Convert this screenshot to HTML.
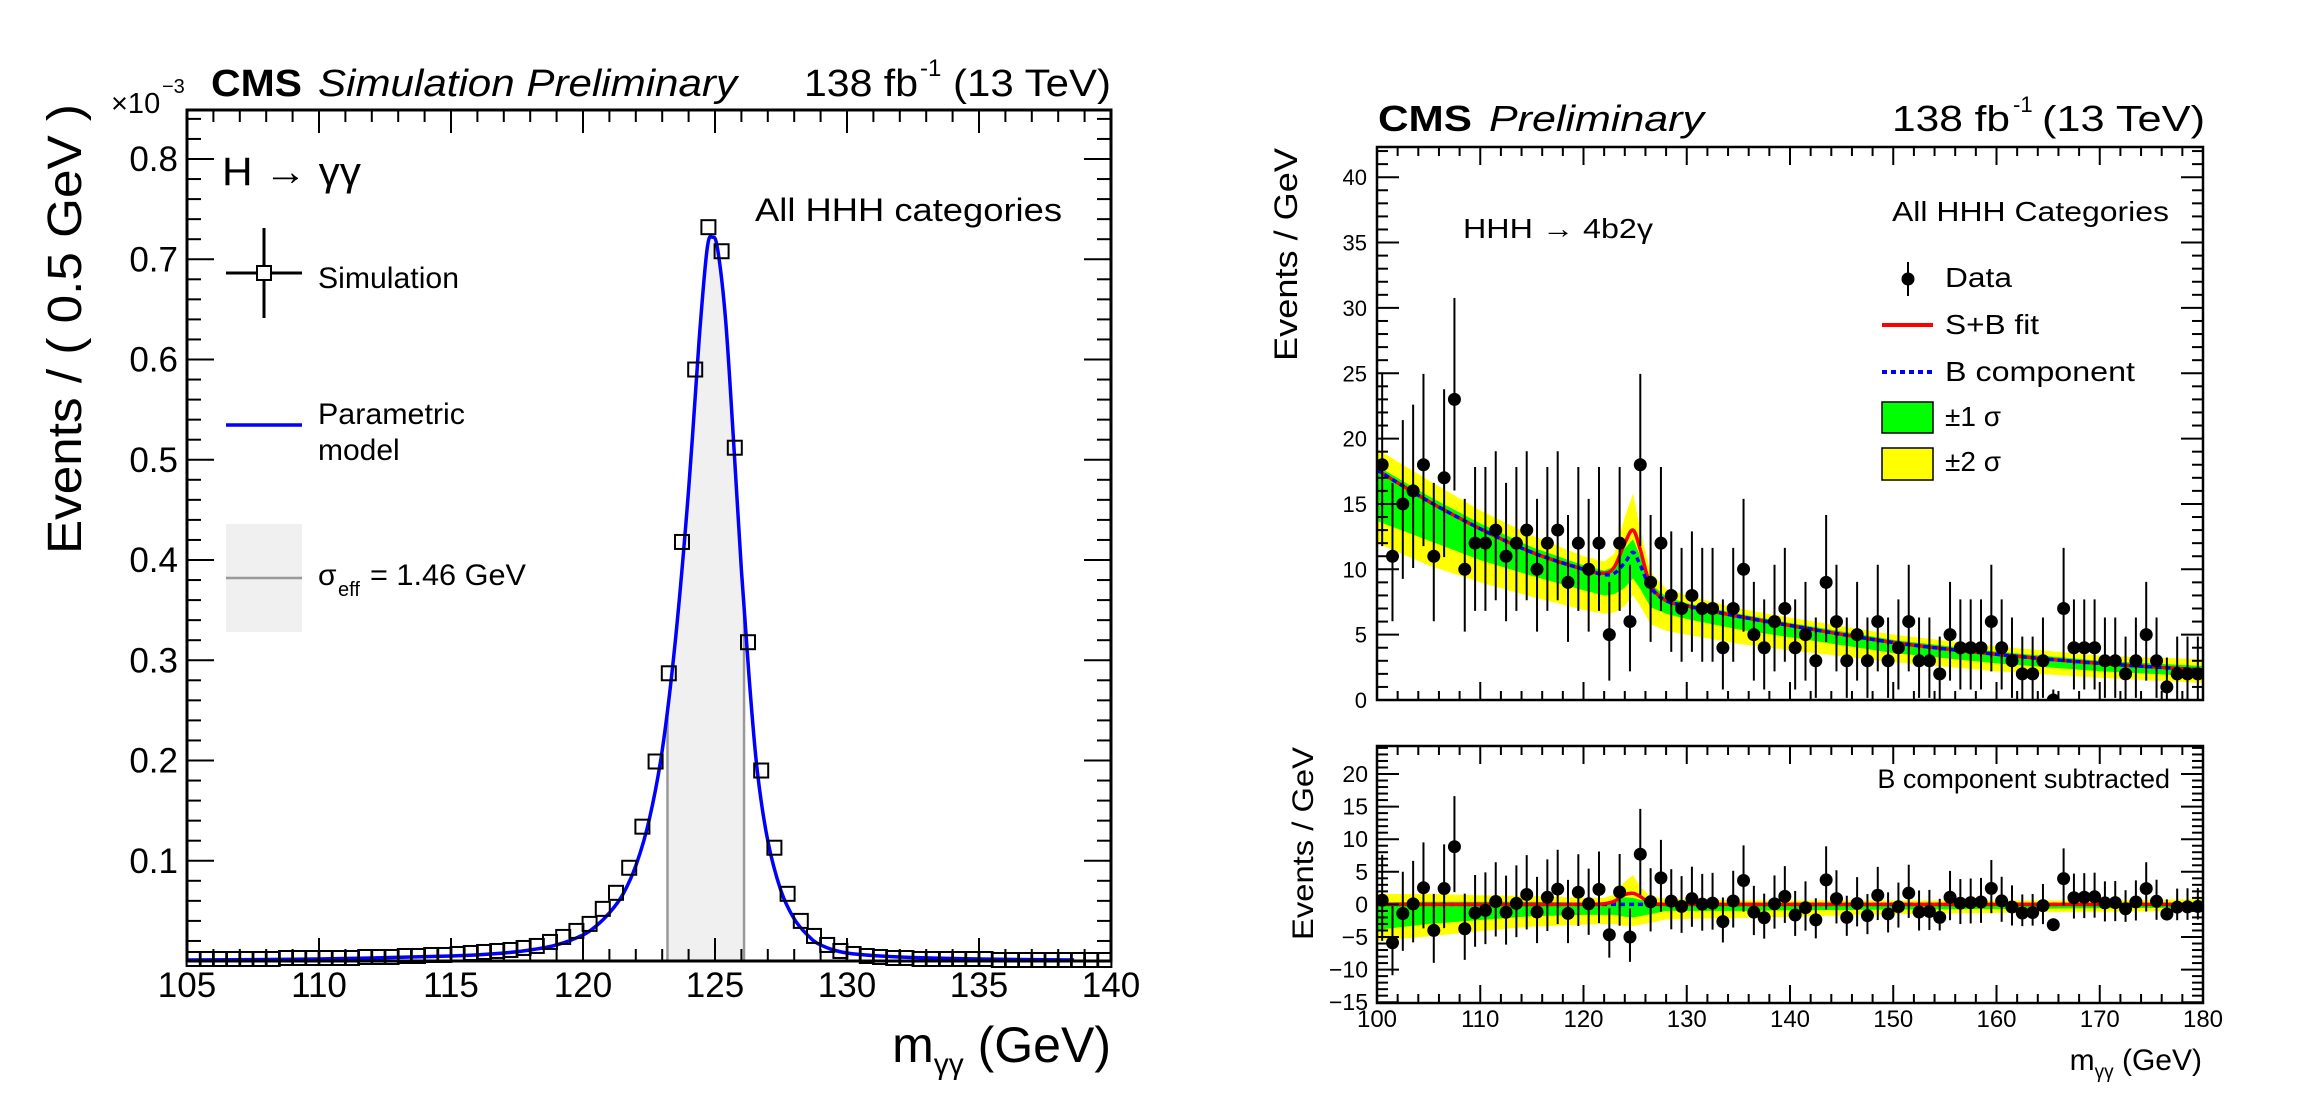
<!DOCTYPE html>
<html><head><meta charset="utf-8"><style>
html,body{margin:0;padding:0;background:#fff;}
svg{display:block;font-family:"Liberation Sans",Arial,sans-serif;}
</style></head><body>
<svg id="fig" width="2309" height="1093" viewBox="0 0 2309 1093" xmlns="http://www.w3.org/2000/svg">
<rect x="0" y="0" width="2309" height="1093" fill="#fff"/>
<g id="left">
  <g id="lMarks"></g>
  <g id="lTicks"></g>
  <rect x="187" y="110" width="924" height="851" fill="none" stroke="#000" stroke-width="3"/>
  <text x="211" y="96" font-size="38" font-weight="bold" textLength="91" lengthAdjust="spacingAndGlyphs">CMS</text>
  <text x="318" y="96" font-size="38" font-style="italic" textLength="419" lengthAdjust="spacingAndGlyphs">Simulation Preliminary</text>
  <text x="804" y="96" font-size="38" textLength="114" lengthAdjust="spacingAndGlyphs">138 fb</text>
  <text x="920" y="76" font-size="24">-1</text>
  <text x="1111" y="96" font-size="38" text-anchor="end" textLength="158" lengthAdjust="spacingAndGlyphs">(13 TeV)</text>
  <text x="111" y="113" font-size="29">×10</text>
  <text x="162" y="93" font-size="20">−3</text>
  <text transform="translate(81,104) rotate(-90)" font-size="48" text-anchor="end" textLength="450" lengthAdjust="spacingAndGlyphs">Events / ( 0.5 GeV )</text>
  <text x="1111" y="1062" font-size="50" text-anchor="end">m<tspan font-size="30" dy="12">γγ</tspan><tspan dy="-12"> (GeV)</tspan></text>
  <text x="222" y="185" font-size="40" textLength="139" lengthAdjust="spacingAndGlyphs">H → γγ</text>
  <text x="755" y="221" font-size="32" textLength="307" lengthAdjust="spacingAndGlyphs">All HHH categories</text>
  <g>
    <line x1="264" y1="228" x2="264" y2="318" stroke="#000" stroke-width="3"/>
    <line x1="226" y1="273" x2="302" y2="273" stroke="#000" stroke-width="3"/>
    <rect x="257" y="266" width="14" height="14" fill="#fff" stroke="#000" stroke-width="2"/>
    <text x="318" y="288" font-size="30" textLength="141" lengthAdjust="spacingAndGlyphs">Simulation</text>
  </g>
  <g>
    <line x1="226" y1="425" x2="302" y2="425" stroke="#0000ff" stroke-width="3.5"/>
    <text x="318" y="424" font-size="30" textLength="147" lengthAdjust="spacingAndGlyphs">Parametric</text>
    <text x="318" y="460" font-size="30">model</text>
  </g>
  <g>
    <rect x="226" y="524" width="76" height="108" fill="#f0f0f0"/>
    <line x1="226" y1="578" x2="302" y2="578" stroke="#999" stroke-width="2.5"/>
    <text x="318" y="585" font-size="30">σ</text>
    <text x="338" y="596" font-size="20">eff</text>
    <text x="370" y="585" font-size="30" textLength="156" lengthAdjust="spacingAndGlyphs">= 1.46 GeV</text>
  </g>
</g>
<g id="right">
  <g id="rMarks"></g>
  <g id="bMarks"></g>
  <g id="rTicks"></g>
  <rect x="1377" y="147" width="826" height="553" fill="none" stroke="#000" stroke-width="2.5"/>
  <rect x="1377" y="746" width="826" height="257" fill="none" stroke="#000" stroke-width="2.5"/>
  <text x="1378" y="131" font-size="36" font-weight="bold" textLength="94" lengthAdjust="spacingAndGlyphs">CMS</text>
  <text x="1489" y="131" font-size="36" font-style="italic" textLength="215" lengthAdjust="spacingAndGlyphs">Preliminary</text>
  <text x="1892" y="131" font-size="36" textLength="118" lengthAdjust="spacingAndGlyphs">138 fb</text>
  <text x="2013" y="112" font-size="22">-1</text>
  <text x="2205" y="131" font-size="36" text-anchor="end" textLength="163" lengthAdjust="spacingAndGlyphs">(13 TeV)</text>
  <text transform="translate(1297,148) rotate(-90)" font-size="32" text-anchor="end" textLength="213" lengthAdjust="spacingAndGlyphs">Events / GeV</text>
  <text transform="translate(1313,747) rotate(-90)" font-size="30" text-anchor="end" textLength="193" lengthAdjust="spacingAndGlyphs">Events / GeV</text>
  <text x="2202" y="1070" font-size="30" text-anchor="end">m<tspan font-size="19" dy="8">γγ</tspan><tspan dy="-8"> (GeV)</tspan></text>
  <text x="1463" y="238" font-size="28" textLength="190" lengthAdjust="spacingAndGlyphs">HHH → 4b2γ</text>
  <text x="1892" y="221" font-size="28" textLength="277" lengthAdjust="spacingAndGlyphs">All HHH Categories</text>
  <text x="2170" y="788" font-size="27" text-anchor="end">B component subtracted</text>
  <g>
    <line x1="1908" y1="262" x2="1908" y2="296" stroke="#000" stroke-width="2"/>
    <circle cx="1908" cy="279" r="6.5" fill="#000"/>
    <text x="1945" y="287" font-size="28" textLength="67" lengthAdjust="spacingAndGlyphs">Data</text>
  </g>
  <g>
    <line x1="1882" y1="325" x2="1933" y2="325" stroke="#ff0000" stroke-width="4"/>
    <text x="1945" y="334" font-size="28" textLength="94" lengthAdjust="spacingAndGlyphs">S+B fit</text>
  </g>
  <g>
    <line x1="1882" y1="372" x2="1933" y2="372" stroke="#0000ff" stroke-width="4" stroke-dasharray="5,4"/>
    <text x="1945" y="381" font-size="28" textLength="190" lengthAdjust="spacingAndGlyphs">B component</text>
  </g>
  <g>
    <rect x="1882" y="402" width="51" height="31" fill="#00ff00" stroke="#000" stroke-width="1.5"/>
    <text x="1945" y="426" font-size="28">±1 σ</text>
  </g>
  <g>
    <rect x="1882" y="448" width="51" height="32" fill="#ffff00" stroke="#000" stroke-width="1.5"/>
    <text x="1945" y="471" font-size="28">±2 σ</text>
  </g>
</g>
</svg>
<script>
// ---------- LEFT CHART DATA ----------
const simValues = [0.002,0.002,0.002,0.002,0.002,0.002,0.002,0.003,0.003,0.003,
  0.003,0.003,0.003,0.004,0.004,0.004,0.005,0.005,0.006,0.006,
  0.007,0.008,0.009,0.010,0.011,0.013,0.015,0.019,0.024,0.030,
  0.037,0.052,0.068,0.093,0.134,0.199,0.287,0.418,0.590,0.732,
  0.708,0.512,0.318,0.190,0.113,0.067,0.040,0.025,0.016,0.010,
  0.007,0.005,0.004,0.003,0.003,0.002,0.002,0.002,0.002,0.002,
  0.002,0.001,0.001,0.001,0.001,0.001,0.001,0.001,0.001,0.001];
const simFirstCenter = 105.25;
const simBinWidth = 0.5;
const modelX = [105,110,115,117,118,119,120,120.5,121,121.5,122,122.5,123,123.5,124,124.4,124.7,124.9,125.1,125.4,125.7,126,126.3,126.6,127,127.5,128,128.5,129,130,132,135,138.6];
const modelY = [0.001,0.002,0.005,0.008,0.011,0.016,0.026,0.035,0.048,0.066,0.095,0.140,0.21,0.32,0.47,0.62,0.71,0.722,0.71,0.64,0.52,0.39,0.28,0.19,0.12,0.07,0.042,0.026,0.016,0.008,0.004,0.002,0.001];
const sigmaEffRange = [123.2, 126.1];
const leftXTickLabels = ["105","110","115","120","125","130","135","140"];
const leftYTickLabels = ["0.1","0.2","0.3","0.4","0.5","0.6","0.7","0.8"];

// ---------- RIGHT CHART DATA ----------
const dataFirstCenter = 100.5;
const dataCounts = [18,11,15,16,18,11,17,23,10,12, 12,13,11,12,13,10,12,13,9,12,
  10,12,5,12,6,18,9,12,8,7, 8,7,7,4,7,10,5,4,6,7,
  4,5,3,9,6,3,5,3,6,3, 4,6,3,3,2,5,4,4,4,6,
  4,3,2,2,3,0,7,4,4,4, 3,3,2,3,5,3,1,2,2,2];
const fitX  = [100,105,110,115,120,122,123,124,124.8,125.5,126.5,128,130,135,140,150,160,170,180];
const bLine = [17.6,15.2,13.1,11.3,10.0,9.6,9.7,10.5,11.3,10.3,8.6,7.6,7.2,6.4,5.7,4.4,3.5,2.8,2.3];
const sbLine= [17.6,15.2,13.1,11.3,10.0,9.7,10.2,12.0,13.0,11.5,8.8,7.6,7.2,6.4,5.7,4.4,3.5,2.8,2.3];
const g1Lo  = [13.7,12.2,10.7,9.5,8.4,8.0,8.1,8.6,9.3,8.5,7.1,6.6,6.2,5.4,4.8,3.6,2.8,2.2,1.8];
const g1Hi  = [17.9,15.6,13.5,11.7,10.3,9.9,10.2,11.6,12.3,11.0,8.9,7.9,7.4,6.6,5.9,4.6,3.7,3.0,2.6];
const y2Lo  = [12.0,10.3,9.0,7.9,6.9,6.6,6.7,7.2,8.0,7.2,5.8,5.3,5.0,4.3,3.8,2.9,2.2,1.7,1.3];
const y2Hi  = [19.2,16.8,14.5,12.6,11.0,10.6,11.2,14.0,15.8,13.0,9.8,8.5,8.0,7.0,6.3,5.0,4.1,3.4,3.1];
const rightXTickLabels = ["100","110","120","130","140","150","160","170","180"];
const rightTopYTickLabels = ["0","5","10","15","20","25","30","35","40"];
const rightBotYTickLabels = ["−15","−10","−5","0","5","10","15","20"];

const NS = "http://www.w3.org/2000/svg";
function el(tag, attrs, parent){ const e=document.createElementNS(NS,tag); for(const k in attrs) e.setAttribute(k,attrs[k]); parent.appendChild(e); return e; }
function smooth(p){ let d=`M${p[0][0]},${p[0][1]}`; for(let i=0;i<p.length-1;i++){ const p0=p[i-1]||p[i],p1=p[i],p2=p[i+1],p3=p[i+2]||p2;
  d+=` C${p1[0]+(p2[0]-p0[0])/6},${p1[1]+(p2[1]-p0[1])/6} ${p2[0]-(p3[0]-p1[0])/6},${p2[1]-(p3[1]-p1[1])/6} ${p2[0]},${p2[1]}`;} return d; }
function interp(xs, ys, x){ if(x<=xs[0]) return ys[0]; for(let i=0;i<xs.length-1;i++){ if(x<=xs[i+1]){ const t=(x-xs[i])/(xs[i+1]-xs[i]); return ys[i]+t*(ys[i+1]-ys[i]); } } return ys[ys.length-1]; }

// ---------- LEFT ----------
const lx = v => 187 + (v-105)*26.4;
const ly = v => 961 - v*1002.5;
const lM = document.getElementById('lMarks');
const lT = document.getElementById('lTicks');
{
  const pts = [[lx(sigmaEffRange[0]), ly(0)]];
  const xsIn = [sigmaEffRange[0], ...modelX.filter(x=>x>sigmaEffRange[0]&&x<sigmaEffRange[1]), sigmaEffRange[1]];
  xsIn.forEach(x=>pts.push([lx(x), ly(interp(modelX,modelY,x))]));
  pts.push([lx(sigmaEffRange[1]), ly(0)]);
  const band = el('polygon',{points:pts.map(p=>p.join(',')).join(' '),fill:'#f0f0f0'},lM);
  
  
  sigmaEffRange.forEach(x=>{
    const l = el('line',{x1:lx(x),x2:lx(x),y1:ly(0),y2:ly(interp(modelX,modelY,x)),stroke:'#999','stroke-width':2.5},lM);
    
    
  });
}
{
  const pts = modelX.map((x,i)=>[lx(x), ly(modelY[i])]);
  const c = el('path',{d:smooth(pts),fill:'none',stroke:'#0000ff','stroke-width':3.5},lM);
  
  
}
simValues.forEach((v,i)=>{
  const x = simFirstCenter + i*simBinWidth;
  const s = el('rect',{x:lx(x)-7,y:ly(v)-7,width:14,height:14,fill:'none',stroke:'#000','stroke-width':2},lM);
  
  
});
for(let v=105; v<=140; v++){
  const major = v%5===0, len = major?23:12;
  const t1 = el('line',{x1:lx(v),x2:lx(v),y1:961,y2:961-len,stroke:'#000','stroke-width':2},lT);
  
  
  const t2 = el('line',{x1:lx(v),x2:lx(v),y1:110,y2:110+len,stroke:'#000','stroke-width':2},lT);
  
  
}
leftXTickLabels.forEach(s=>{
  const t = el('text',{x:lx(+s),y:997,'font-size':35,'text-anchor':'middle'},lT);
  t.textContent = s;
  
  
});
for(let k=1; k<=42; k++){
  const v = k*0.02, major = k%5===0, len = major?27:14;
  const t1 = el('line',{x1:187,x2:187+len,y1:ly(v),y2:ly(v),stroke:'#000','stroke-width':2},lT);
  
  
  const t2 = el('line',{x1:1111,x2:1111-len,y1:ly(v),y2:ly(v),stroke:'#000','stroke-width':2},lT);
  
  
}
leftYTickLabels.forEach(s=>{
  const t = el('text',{x:178,y:ly(+s)+12,'font-size':35,'text-anchor':'end'},lT);
  t.textContent = s;
  
  
});

// ---------- RIGHT ----------
const rx = v => 1377 + (v-100)*10.325;
const ry = v => 700 - v*13.07;
const by = v => 904.4 - v*6.52;
const rM = document.getElementById('rMarks');
const bM = document.getElementById('bMarks');
const rT = document.getElementById('rTicks');
function bandPoly(lo, hi, yf, parent, color, name){
  const pts = fitX.map((x,i)=>[rx(x), yf(hi[i], x)]).concat(fitX.map((x,i)=>[rx(x), yf(lo[i], x)]).reverse());
  const p = el('polygon',{points:pts.map(q=>q.join(',')).join(' '),fill:color},parent);
  
  
}
function linePath(vals, yf, parent, color, dash, name){
  const pts = fitX.map((x,i)=>[rx(x), yf(vals[i], x)]);
  const a = {d:smooth(pts),fill:'none',stroke:color,'stroke-width':3.5};
  if(dash) a['stroke-dasharray']=dash;
  const p = el('path',a,parent);
  
  
}
const topY = (v)=>ry(v);
const resY = (v,x)=>by(v - interp(fitX,bLine,x));
bandPoly(y2Lo,y2Hi,topY,rM,'#ffff00','top-2sigma-band');
bandPoly(g1Lo,g1Hi,topY,rM,'#00ff00','top-1sigma-band');
linePath(sbLine,topY,rM,'#ff0000',null,'top-sb-fit-line');
linePath(bLine,topY,rM,'#0000ff','5,4','top-b-component-line');
bandPoly(y2Lo,y2Hi,resY,bM,'#ffff00','bottom-2sigma-band');
bandPoly(g1Lo,g1Hi,resY,bM,'#00ff00','bottom-1sigma-band');
linePath(bLine,resY,bM,'#0000ff','5,4','bottom-b-component-line');
linePath(sbLine,resY,bM,'#ff0000',null,'bottom-sb-fit-line');
const clipTop = el('clipPath',{id:'clipTop'},document.getElementById('fig'));
el('rect',{x:1377,y:147,width:826,height:553},clipTop);
const clipBot = el('clipPath',{id:'clipBot'},document.getElementById('fig'));
el('rect',{x:1377,y:746,width:826,height:257},clipBot);
rM.setAttribute('clip-path','url(#clipTop)');
bM.setAttribute('clip-path','url(#clipBot)');
dataCounts.forEach((n,i)=>{
  const x = dataFirstCenter + i;
  const hi = 1.45*Math.sqrt(n)+0.8;
  const lo = Math.min(n, 1.35*Math.sqrt(n)+0.5);
  const e1 = el('line',{x1:rx(x),x2:rx(x),y1:ry(n+hi),y2:ry(n-lo),stroke:'#000','stroke-width':2},rM);
  
  
  const c1 = el('circle',{cx:rx(x),cy:ry(n),r:6.5,fill:'#000'},rM);
  
  
  const r = n - interp(fitX,bLine,x);
  const e2 = el('line',{x1:rx(x),x2:rx(x),y1:by(r+hi),y2:by(r-lo),stroke:'#000','stroke-width':2},bM);
  
  
  const c2 = el('circle',{cx:rx(x),cy:by(r),r:6.5,fill:'#000'},bM);
  
  
});
for(let v=100; v<=180; v+=2){
  const major = v%10===0, len = major?18:9;
  [[700,-1],[147,1],[1003,-1],[746,1]].forEach(([y0,dir])=>{
    const t = el('line',{x1:rx(v),x2:rx(v),y1:y0,y2:y0+dir*len,stroke:'#000','stroke-width':2},rT);
    
    
  });
}
rightXTickLabels.forEach(s=>{
  const t = el('text',{x:rx(+s),y:1027,'font-size':24,'text-anchor':'middle'},rT);
  t.textContent = s;
  
  
});
for(let v=0; v<=42; v++){
  const major = v%5===0, len = major?22:11;
  const t1 = el('line',{x1:1377,x2:1377+len,y1:ry(v),y2:ry(v),stroke:'#000','stroke-width':2},rT);
  
  
  const t2 = el('line',{x1:2203,x2:2203-len,y1:ry(v),y2:ry(v),stroke:'#000','stroke-width':2},rT);
  
  
}
rightTopYTickLabels.forEach(s=>{
  const t = el('text',{x:1367,y:ry(+s)+8,'font-size':22,'text-anchor':'end'},rT);
  t.textContent = s;
  
  
});
for(let v=-15; v<=24; v++){
  const major = v%5===0, len = major?22:11;
  const t1 = el('line',{x1:1377,x2:1377+len,y1:by(v),y2:by(v),stroke:'#000','stroke-width':2},rT);
  
  
  const t2 = el('line',{x1:2203,x2:2203-len,y1:by(v),y2:by(v),stroke:'#000','stroke-width':2},rT);
  
  
}
rightBotYTickLabels.forEach(s=>{
  const t = el('text',{x:1368,y:by(+s.replace('−','-'))+8,'font-size':23,'text-anchor':'end'},rT);
  t.textContent = s;
  
  
});
</script>
</body></html>
